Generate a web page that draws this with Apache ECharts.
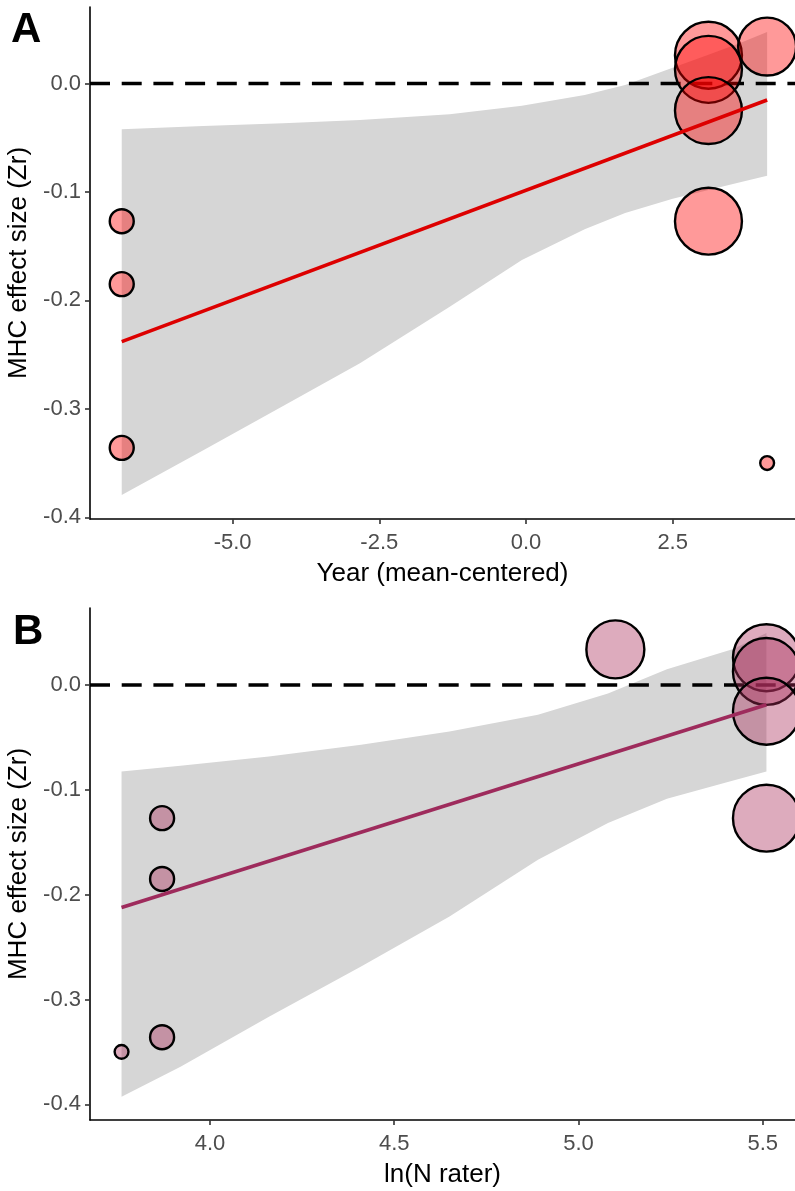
<!DOCTYPE html>
<html>
<head>
<meta charset="utf-8">
<script src="https://cdn.jsdelivr.net/npm/echarts@6/dist/echarts.min.js"></script>
<style>
html,body{margin:0;padding:0;background:#fff;}
#chart{width:795px;height:1191px;}
</style>
</head>
<body>
<div id="chart"></div>
<script>
// ---- data ----
const yearCentered = [-6.89, -6.89, -6.89, 4.11, 3.11, 3.11, 3.11, 3.11, 4.11];
const lnNRater     = [3.87, 3.87, 3.87, 3.76, 5.51, 5.51, 5.51, 5.51, 5.10];
const effectZr     = [-0.127, -0.185, -0.336, -0.350, 0.026, 0.013, -0.025, -0.127, 0.034];
const studyWeight  = [9, 9, 9, 3, 70, 70, 70, 70, 52.5];

// regression fits (endpoints)
const fitA_x = [-6.89, 4.11];
const fitA_y = [-0.238, -0.0152];
const fitB_x = [3.76, 5.51];
const fitB_y = [-0.2123, -0.0188];

// confidence bands
const bandA_x     = [-6.89, -5.5, -4.14, -2.83, -1.3, -0.07, 1.0, 1.69, 2.5, 3.11, 3.65, 4.11];
const bandA_upper = [-0.0422, -0.0392, -0.0367, -0.0337, -0.0283, -0.0205, -0.0106, -0.0014, 0.0145, 0.0264, 0.0373, 0.0475];
const bandA_lower = [-0.3794, -0.3383, -0.2974, -0.2580, -0.2058, -0.1627, -0.1344, -0.1194, -0.1064, -0.0983, -0.0912, -0.0852];

const bandB_x     = [3.76, 3.92, 4.16, 4.41, 4.65, 4.89, 5.08, 5.24, 5.42, 5.51];
const bandB_upper = [-0.0825, -0.0770, -0.0682, -0.0570, -0.0443, -0.0284, -0.0080, 0.0150, 0.0344, 0.0496];
const bandB_lower = [-0.3928, -0.3641, -0.3164, -0.2686, -0.2209, -0.1668, -0.1317, -0.1085, -0.0912, -0.0825];

// tick labels
const yTicks  = [-0.4, -0.3, -0.2, -0.1, 0.0];
const xTicksA = [-5.0, -2.5, 0.0, 2.5];
const xTicksB = [4.0, 4.5, 5.0, 5.5];

const titleA = 'Year (mean-centered)';
const titleB = 'ln(N rater)';
const yTitle = 'MHC effect size (Zr)';

// ---- chart ----
const FONT = "'Liberation Sans', Arial, sans-serif";
const chart = echarts.init(document.getElementById('chart'), null, {renderer: 'canvas'});

const ranges = {
  A: {xmin: -7.431, xmax: 4.585, ymin: -0.4016, ymax: 0.0705},
  B: {xmin: 3.6744, xmax: 5.5875, ymin: -0.415, ymax: 0.0735}
};

function xAxisCfg(gi, r, ticks, name) {
  return {
    type: 'value', gridIndex: gi, min: r.xmin, max: r.xmax,
    name: name, nameLocation: 'middle', nameGap: 42,
    nameTextStyle: {fontFamily: FONT, fontSize: 26, color: '#000'},
    axisLine: {show: true, onZero: false, lineStyle: {color: '#000', width: 1.6}},
    axisTick: {show: true, customValues: ticks, length: 5, lineStyle: {color: '#333', width: 1.6}},
    axisLabel: {customValues: ticks, formatter: v => Number(v).toFixed(1), color: '#4D4D4D',
                fontFamily: FONT, fontSize: 22, margin: 13},
    splitLine: {show: false}
  };
}
function yAxisCfg(gi, r) {
  return {
    type: 'value', gridIndex: gi, min: r.ymin, max: r.ymax,
    name: yTitle, nameLocation: 'middle', nameGap: 51, nameRotate: 90,
    nameTextStyle: {fontFamily: FONT, fontSize: 26, color: '#000'},
    axisLine: {show: true, onZero: false, lineStyle: {color: '#000', width: 1.6}},
    axisTick: {show: true, customValues: yTicks, length: 5, lineStyle: {color: '#333', width: 1.6}},
    axisLabel: {customValues: yTicks, formatter: v => Number(v).toFixed(1), color: '#4D4D4D',
                fontFamily: FONT, fontSize: 22, margin: 9},
    splitLine: {show: false}
  };
}

function bandSeries(gi, bx, up, lo) {
  return {
    type: 'custom', xAxisIndex: gi, yAxisIndex: gi, z: 1, silent: true,
    data: [0],
    renderItem: function (params, api) {
      const pts = [];
      for (let i = 0; i < bx.length; i++) pts.push(api.coord([bx[i], up[i]]));
      for (let i = bx.length - 1; i >= 0; i--) pts.push(api.coord([bx[i], lo[i]]));
      return {type: 'polygon', shape: {points: pts}, style: {fill: '#D6D6D6'}};
    }
  };
}
function zeroLine(gi, r) {
  return {
    type: 'line', xAxisIndex: gi, yAxisIndex: gi, z: 2, silent: true,
    data: [[r.xmin, 0], [r.xmax, 0]], symbol: 'none',
    lineStyle: {color: '#000', width: 3.5, type: [20, 11.7]}
  };
}
function pointSeries(gi, xs, fill) {
  return {
    type: 'scatter', xAxisIndex: gi, yAxisIndex: gi, z: 3, clip: false, silent: true,
    data: xs.map((x, i) => [x, effectZr[i], studyWeight[i]]),
    symbol: 'circle',
    symbolSize: d => 8 * Math.sqrt(d[2]),
    itemStyle: {color: fill, borderColor: '#000', borderWidth: 2.4, opacity: 1}
  };
}
function fitSeries(gi, fx, fy, color) {
  return {
    type: 'line', xAxisIndex: gi, yAxisIndex: gi, z: 4, silent: true,
    data: fx.map((x, i) => [x, fy[i]]), symbol: 'none',
    lineStyle: {color: color, width: 3.6}
  };
}

chart.setOption({
  animation: false,
  backgroundColor: '#fff',
  grid: [
    {left: 90, right: 0, top: 7, height: 512, containLabel: false, outerBoundsMode: 'none'},
    {left: 90, right: 0, top: 608, height: 512, containLabel: false, outerBoundsMode: 'none'}
  ],
  xAxis: [xAxisCfg(0, ranges.A, xTicksA, titleA), xAxisCfg(1, ranges.B, xTicksB, titleB)],
  yAxis: [yAxisCfg(0, ranges.A), yAxisCfg(1, ranges.B)],
  graphic: [
    {type: 'text', left: 11, top: 9, style: {text: 'A', font: 'bold 42px ' + FONT, fill: '#000'}},
    {type: 'text', left: 13, top: 611, style: {text: 'B', font: 'bold 42px ' + FONT, fill: '#000'}}
  ],
  series: [
    bandSeries(0, bandA_x, bandA_upper, bandA_lower),
    zeroLine(0, ranges.A),
    pointSeries(0, yearCentered, 'rgba(255,0,0,0.4)'),
    fitSeries(0, fitA_x, fitA_y, '#DD0000'),
    bandSeries(1, bandB_x, bandB_upper, bandB_lower),
    zeroLine(1, ranges.B),
    pointSeries(1, lnNRater, 'rgba(170,45,90,0.4)'),
    fitSeries(1, fitB_x, fitB_y, '#9E2B5C')
  ]
});
</script>
</body>
</html>
